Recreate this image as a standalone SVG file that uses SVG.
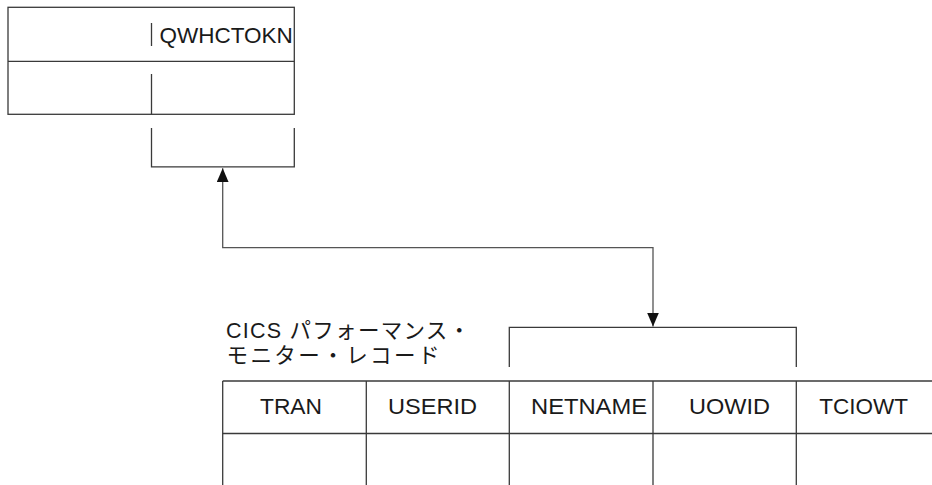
<svg xmlns="http://www.w3.org/2000/svg" width="932" height="485" viewBox="0 0 932 485">
<style>
.ln{fill:none;stroke:#3a3a3a;stroke-width:1.3}
.cn{fill:none;stroke:#555;stroke-width:1.3}
.t{font-family:"Liberation Sans",Arial,sans-serif;font-size:22.5px;fill:#1a1a1a}
.j{font-family:"Liberation Sans","Noto Sans CJK JP",sans-serif;font-size:21.5px;fill:#1a1a1a}
</style>
<defs>
<marker id="ah" viewBox="0 0 14 12" refX="14" refY="6" markerWidth="14" markerHeight="12" markerUnits="userSpaceOnUse" orient="auto-start-reverse">
<path d="M0,0 L14,6 L0,12 Z" fill="#111"/>
</marker>
</defs>
<rect width="932" height="485" fill="#fff"/>
<g id="qwhc">
<rect class="ln" x="8" y="7.3" width="286.3" height="107"/>
<line class="ln" x1="8" y1="61.3" x2="294.3" y2="61.3"/>
<line class="ln" x1="151.5" y1="23" x2="151.5" y2="46"/>
<line class="ln" x1="151.5" y1="74" x2="151.5" y2="114.3"/>
<text class="t" x="159.5" y="42.7" font-size="21.5">QWHCTOKN</text>
</g>
<g id="qwhc-bracket">
<path class="ln" d="M151.5,128 V166.8 H294.3 V128"/>
</g>
<g id="cics-label">
<text class="j" x="226" y="338.3" textLength="244" lengthAdjust="spacing">CICS パフォーマンス・</text>
<text class="j" x="226.5" y="363" textLength="213" lengthAdjust="spacing">モニター・レコード</text>
</g>
<g id="cics-bracket">
<path class="ln" d="M509.3,367 V327.3 H796.3 V367"/>
</g>
<g id="cics-table">
<line class="ln" x1="222.7" y1="381" x2="932" y2="381"/>
<line class="ln" x1="222.7" y1="433.5" x2="932" y2="433.5"/>
<line class="ln" x1="222.7" y1="381" x2="222.7" y2="485"/>
<line class="ln" x1="366.3" y1="381" x2="366.3" y2="485"/>
<line class="ln" x1="509.3" y1="381" x2="509.3" y2="485"/>
<line class="ln" x1="653" y1="381" x2="653" y2="485"/>
<line class="ln" x1="796.3" y1="381" x2="796.3" y2="485"/>
<text class="t" x="260" y="413.5" textLength="62" lengthAdjust="spacingAndGlyphs">TRAN</text>
<text class="t" x="388" y="413.5" textLength="89" lengthAdjust="spacingAndGlyphs">USERID</text>
<text class="t" x="531" y="413.5" textLength="116" lengthAdjust="spacingAndGlyphs">NETNAME</text>
<text class="t" x="689" y="413.5" textLength="81" lengthAdjust="spacingAndGlyphs">UOWID</text>
<text class="t" x="819.3" y="413.5" textLength="88.7" lengthAdjust="spacingAndGlyphs">TCIOWT</text>
</g>
<g id="connectors">
<path class="cn" d="M653,326.5 V247.6 H222.7 V168.3" marker-start="url(#ah)" marker-end="url(#ah)"/>
</g>
</svg>
